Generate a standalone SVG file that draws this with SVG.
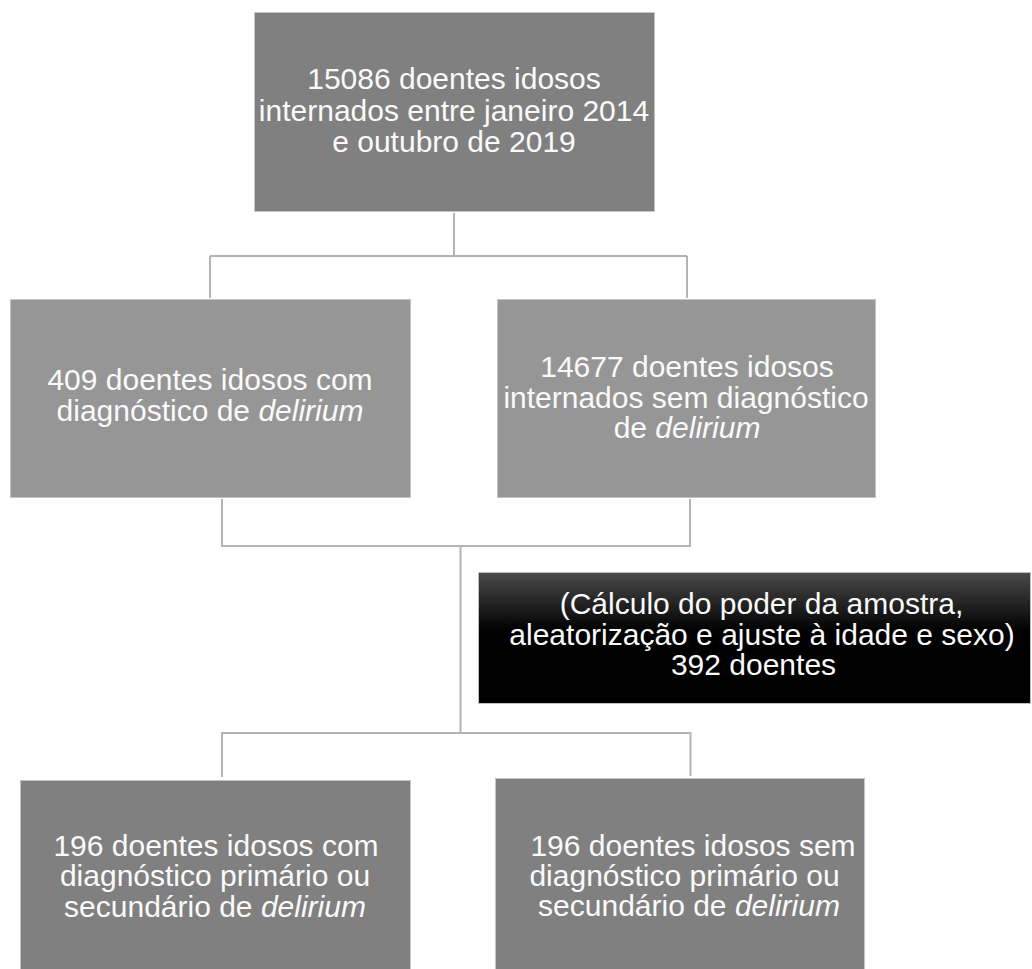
<svg xmlns="http://www.w3.org/2000/svg" width="1032" height="969" viewBox="0 0 1032 969">
<style>
.box{stroke:#c4c4c4;stroke-width:1}
.dark{fill:#808080}
.mid{fill:#969696}
.blk{fill:url(#gloss);stroke:#bfbfbf;stroke-width:1}
.t{font-family:"Liberation Sans",Arial,sans-serif;font-size:30px;fill:#fafafa;text-anchor:middle}
.i{font-style:italic}
.c{fill:none;stroke:#b4b4b4;stroke-width:2}
</style>
<defs>
<linearGradient id="gloss" x1="0" y1="0" x2="0" y2="1">
<stop offset="0" stop-color="#4a4a4a"/>
<stop offset="0.45" stop-color="#000000"/>
<stop offset="1" stop-color="#000000"/>
</linearGradient>
</defs>
<rect width="1032" height="969" fill="#ffffff"/>
<g id="connectors">
<path class="c" d="M454,213 V256 M210,256 H687 M210,256 V298 M687,256 V298"/>
<path class="c" d="M222,499 V546 H690 V499 M460.5,546 V733 M222,777 V733 H690.5 V776"/>
</g>
<g id="n1">
<rect class="box dark" x="254.5" y="12.5" width="400" height="199"/>
<text class="t" x="454" y="89">15086 doentes idosos</text>
<text class="t" x="454" y="120.5">internados entre janeiro 2014</text>
<text class="t" x="454" y="151.5">e outubro de 2019</text>
</g>
<g id="n2">
<rect class="box mid" x="10.5" y="299.5" width="400" height="198"/>
<text class="t" x="210" y="390">409 doentes idosos com</text>
<text class="t" x="210" y="421">diagnóstico de <tspan class="i">delirium</tspan></text>
</g>
<g id="n3">
<rect class="box mid" x="497.5" y="299.5" width="378" height="198"/>
<text class="t" x="687" y="376.5">14677 doentes idosos</text>
<text class="t" x="686" y="407.5">internados sem diagnóstico</text>
<text class="t" x="687" y="437.5">de <tspan class="i">delirium</tspan></text>
</g>
<g id="n4">
<rect class="blk" x="478.5" y="572.5" width="552" height="131"/>
<text class="t" x="761.5" y="614">(Cálculo do poder da amostra,</text>
<text class="t" x="762" y="645">aleatorização e ajuste à idade e sexo)</text>
<text class="t" x="753.5" y="675">392 doentes</text>
</g>
<g id="n5">
<rect class="box dark" x="20.5" y="780.5" width="390" height="200"/>
<text class="t" x="216" y="855.5">196 doentes idosos com</text>
<text class="t" x="215" y="886">diagnóstico primário ou</text>
<text class="t" x="215" y="916.5">secundário de <tspan class="i">delirium</tspan></text>
</g>
<g id="n6">
<rect class="box dark" x="495.5" y="778.5" width="369" height="202"/>
<text class="t" x="693" y="855.5">196 doentes idosos sem</text>
<text class="t" x="684.5" y="885.5">diagnóstico primário ou</text>
<text class="t" x="689" y="916">secundário de <tspan class="i">delirium</tspan></text>
</g>
</svg>
